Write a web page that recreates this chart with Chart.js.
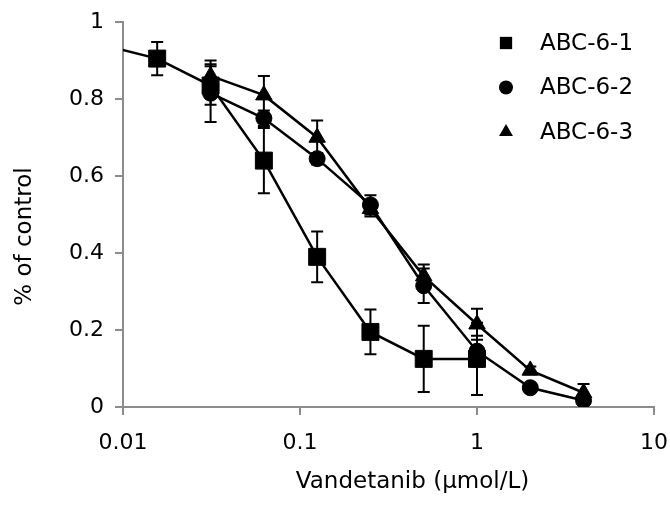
<!DOCTYPE html>
<html>
<head>
<meta charset="utf-8">
<script src="https://cdn.jsdelivr.net/npm/chart.js@4/dist/chart.umd.min.js"></script>
<style>
  body { margin: 0; background: #fff; }
  #wrap { width: 670px; height: 505px; }
</style>
</head>
<body>
<div id="wrap"><canvas id="doseChart" width="670" height="505"></canvas></div>
<script>
// dose (umol/L) for each series
const doses61 = [0.0078, 0.0156, 0.03125, 0.0625, 0.125, 0.25, 0.5, 1];
const doses62 = [0.03125, 0.0625, 0.125, 0.25, 0.5, 1, 2, 4];
const doses63 = [0.03125, 0.0625, 0.125, 0.25, 0.5, 1, 2, 4];

// fraction of control
const abc61 = [0.94, 0.905, 0.835, 0.64, 0.39, 0.195, 0.125, 0.125];
const abc62 = [0.815, 0.75, 0.645, 0.525, 0.315, 0.145, 0.05, 0.017];
const abc63 = [0.86, 0.81, 0.70, 0.515, 0.34, 0.215, 0.095, 0.037];

// error bars (+/-)
const err61 = [0.02, 0.043, 0.05, 0.085, 0.066, 0.058, 0.086, 0.094];
const err62 = [0.075, 0.02, 0.015, 0.025, 0.045, 0.04, 0.01, 0.01];
const err63 = [0.04, 0.05, 0.044, 0.02, 0.03, 0.04, 0.01, 0.023];

const seriesNames = ['ABC-6-1', 'ABC-6-2', 'ABC-6-3'];
const xTicks = [0.01, 0.1, 1, 10];
const yTicks = [0, 0.2, 0.4, 0.6, 0.8, 1];

const xTitle = 'Vandetanib (\u03bcmol/L)';
const yTitle = '% of control';

const FONT = '"DejaVu Sans", Verdana, sans-serif';
const AXIS_GREY = '#8c8c8c';

function toPoints(xs, ys) {
  return xs.map((x, i) => ({ x: x, y: ys[i] }));
}

// error bars drawn through the chart's own scales
const errorBars = {
  id: 'errorBars',
  afterDatasetsDraw(chart) {
    const { ctx, scales: { x, y } } = chart;
    const errs = [err61, err62, err63];
    ctx.save();
    ctx.strokeStyle = '#000';
    ctx.lineWidth = 2;
    chart.data.datasets.forEach((ds, di) => {
      ds.data.forEach((p, i) => {
        if (p.x < x.min || p.x > x.max) return;
        const e = errs[di][i];
        const px = x.getPixelForValue(p.x);
        const top = y.getPixelForValue(p.y + e);
        const bot = y.getPixelForValue(p.y - e);
        ctx.beginPath();
        ctx.moveTo(px, top); ctx.lineTo(px, bot);
        ctx.moveTo(px - 6, top); ctx.lineTo(px + 6, top);
        ctx.moveTo(px - 6, bot); ctx.lineTo(px + 6, bot);
        ctx.stroke();
      });
    });
    ctx.restore();
  }
};

// legend in the top right corner and the two axis titles
const annotations = {
  id: 'annotations',
  afterDraw(chart) {
    const { ctx, chartArea } = chart;
    const legendSizes = [8.7, 7, 8];
    ctx.save();
    ctx.fillStyle = '#000';
    ctx.strokeStyle = '#000';
    ctx.font = '23px ' + FONT;
    ctx.textBaseline = 'middle';
    ctx.textAlign = 'left';
    chart.data.datasets.forEach((ds, i) => {
      const rowY = 43 + i * 44.5;
      Chart.helpers.drawPoint(ctx, {
        pointStyle: ds.pointStyle, radius: legendSizes[i], rotation: 0, borderWidth: 0
      }, 506, rowY);
      ctx.fillText(ds.label, 540, rowY + 1);
    });

    ctx.textAlign = 'center';
    ctx.fillText(xTitle, (chartArea.left + chartArea.right) / 2 + 24, chartArea.bottom + 75);

    ctx.translate(25, (chartArea.top + chartArea.bottom) / 2 + 22);
    ctx.rotate(-Math.PI / 2);
    ctx.fillText(yTitle, 0, 0);
    ctx.restore();
  }
};

function makeSet(label, xs, ys, style, radius) {
  return {
    label: label,
    data: toPoints(xs, ys),
    borderColor: '#000',
    borderWidth: 2.5,
    backgroundColor: '#000',
    pointStyle: style,
    pointRadius: radius,
    pointBackgroundColor: '#000',
    pointBorderColor: '#000',
    pointBorderWidth: 1,
    tension: 0
  };
}

const datasets = [
  makeSet(seriesNames[0], doses61, abc61, 'rect', 12),
  makeSet(seriesNames[1], doses62, abc62, 'circle', 8),
  makeSet(seriesNames[2], doses63, abc63, 'triangle', 9.5)
];
// first ABC-6-1 dose lies left of the axis: cut it at the plot edge
datasets[0].clip = { left: 0, top: 20, right: 20, bottom: 20 };

new Chart(document.getElementById('doseChart'), {
  type: 'line',
  data: { datasets: datasets },
  options: {
    responsive: false,
    animation: false,
    layout: { padding: { left: 0, top: 22, right: 16, bottom: 0 } },
    plugins: { legend: { display: false }, tooltip: { enabled: false } },
    scales: {
      x: {
        type: 'logarithmic',
        min: 0.01,
        max: 10,
        afterBuildTicks: s => { s.ticks = xTicks.map(v => ({ value: v })); },
        afterFit: s => { s.height = 98; s.paddingLeft = 0; s.paddingRight = 0; },
        ticks: {
          color: '#000',
          font: { family: FONT, size: 22 },
          padding: 15,
          maxRotation: 0,
          autoSkip: false,
          callback: v => String(v)
        },
        grid: { drawOnChartArea: false, tickLength: 8, color: AXIS_GREY, lineWidth: 2 },
        border: { color: AXIS_GREY, width: 2 }
      },
      y: {
        type: 'linear',
        min: 0,
        max: 1,
        afterBuildTicks: s => { s.ticks = yTicks.map(v => ({ value: v })); },
        afterFit: s => { s.width = 123; s.paddingTop = 0; s.paddingBottom = 0; },
        ticks: {
          color: '#000',
          font: { family: FONT, size: 22 },
          padding: 11,
          callback: v => String(v)
        },
        grid: { drawOnChartArea: false, tickLength: 8, color: AXIS_GREY, lineWidth: 2 },
        border: { color: AXIS_GREY, width: 2 }
      }
    }
  },
  plugins: [errorBars, annotations]
});
</script>
</body>
</html>
